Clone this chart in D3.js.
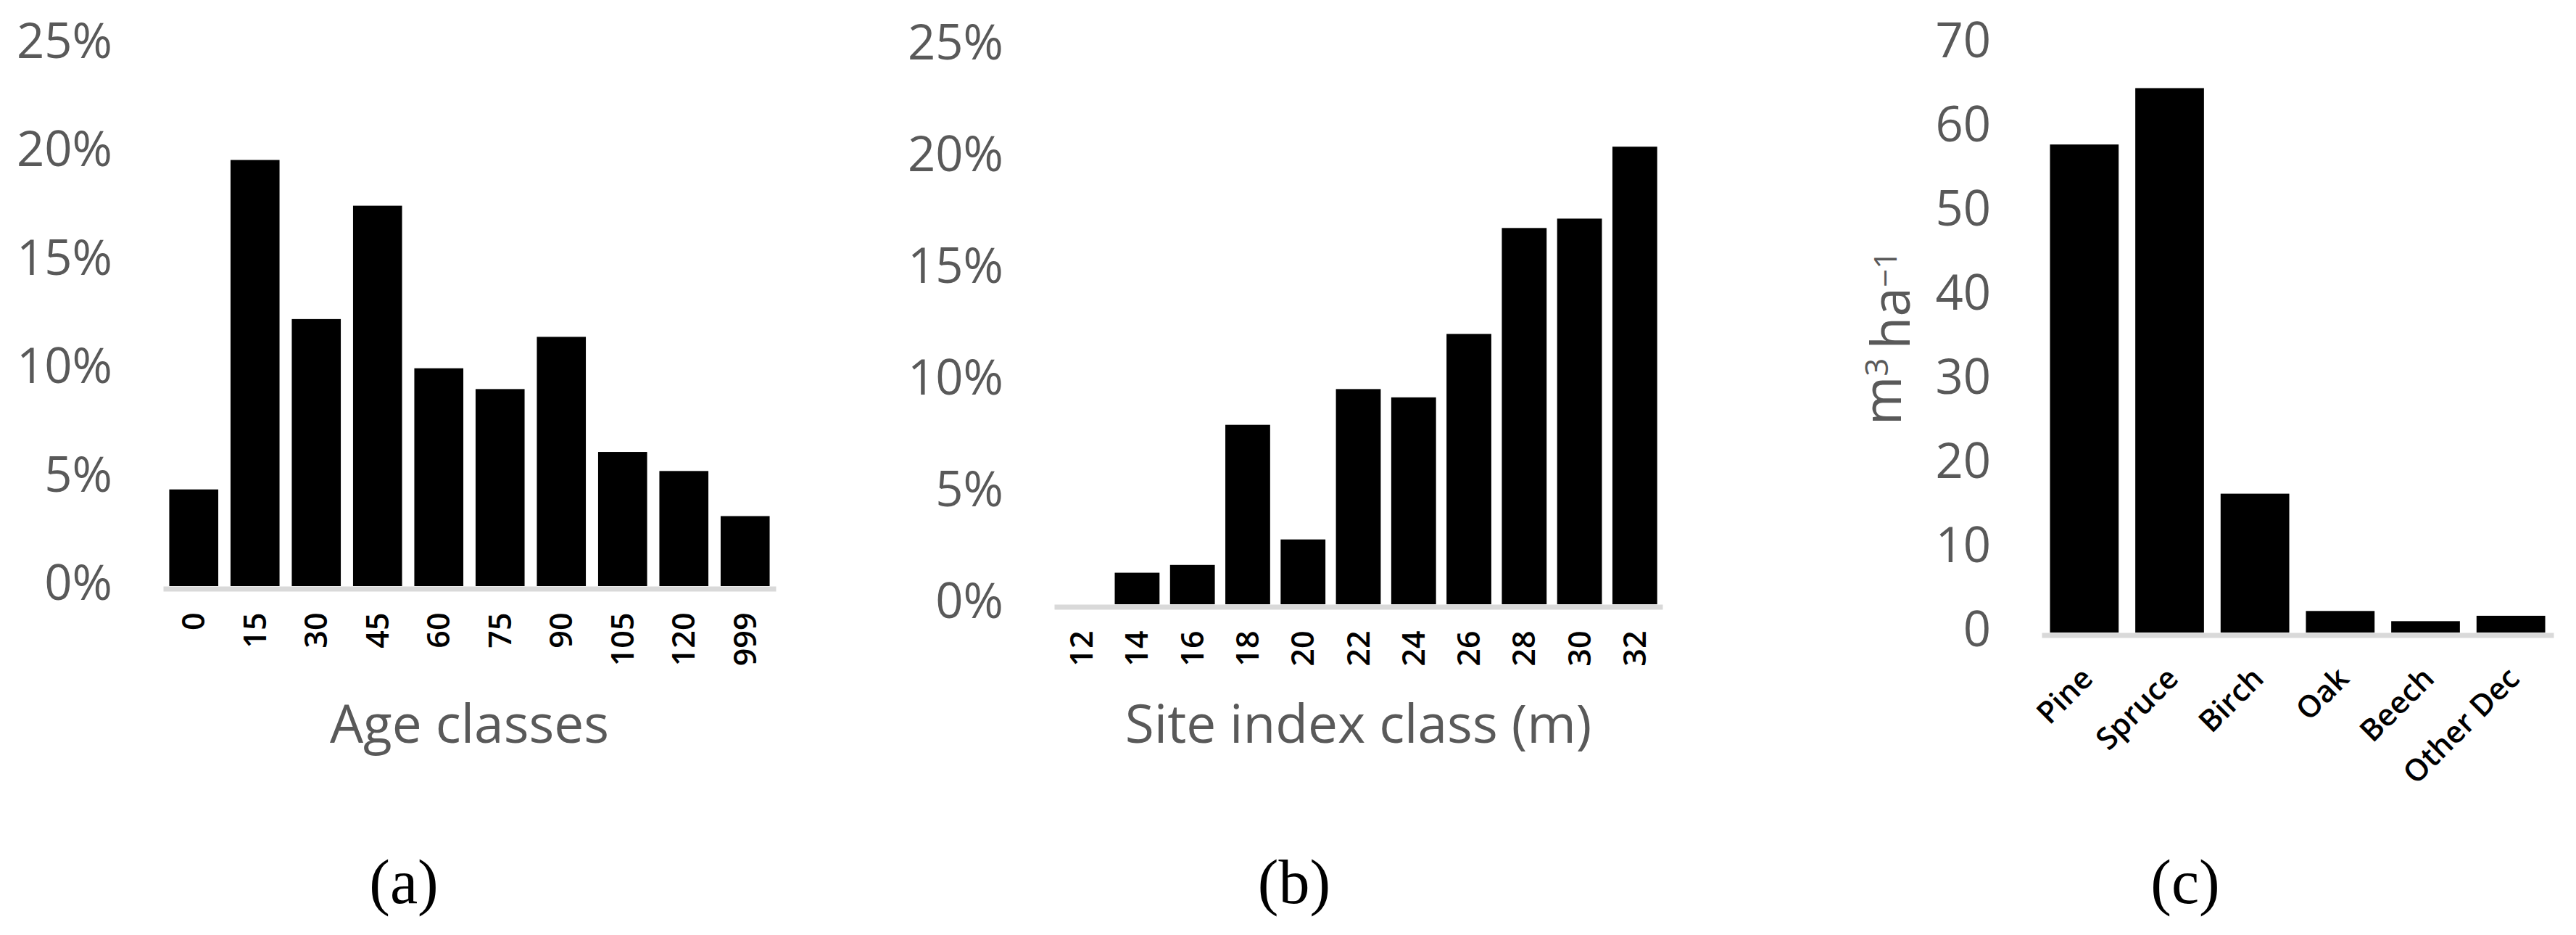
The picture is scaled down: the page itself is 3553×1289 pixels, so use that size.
<!DOCTYPE html>
<html>
<head>
<meta charset="utf-8">
<script src="https://cdn.jsdelivr.net/npm/d3@7"></script>
<style>
  body { margin: 0; background: #fff; }
  svg { display: block; }
</style>
</head>
<body>
<script>
// data
var ageClasses = ["0", "15", "30", "45", "60", "75", "90", "105", "120", "999"];
var ageShares = [0.0446, 0.1966, 0.1232, 0.1755, 0.1005, 0.0909, 0.1150, 0.0619, 0.0531, 0.0323];

var siteClasses = ["12", "14", "16", "18", "20", "22", "24", "26", "28", "30", "32"];
var siteShares = [0, 0.0141, 0.0176, 0.0803, 0.0290, 0.0963, 0.0926, 0.1210, 0.1684, 0.1726, 0.2048];

var species = ["Pine", "Spruce", "Birch", "Oak", "Beech", "Other Dec"];
var volumes = [58.0, 64.7, 16.5, 2.56, 1.35, 1.99];

var pctTicks = [0, 0.05, 0.10, 0.15, 0.20, 0.25];
var volTicks = [0, 10, 20, 30, 40, 50, 60, 70];

var width = 3553,
    height = 1289,
    grey = "#595959",
    font = "'Open Sans', 'Noto Sans', sans-serif";

var svg = d3.select("body").append("svg")
    .attr("width", width)
    .attr("height", height);

svg.append("rect")
    .attr("width", width)
    .attr("height", height)
    .attr("fill", "#fff");

// one bar panel, Excel look
function drawPanel(p) {
  var g = svg.append("g");

  var x = d3.scaleBand()
      .domain(p.cats)
      .range([p.left, p.right])
      .paddingInner(p.pad)
      .paddingOuter(p.pad / 2);

  var y = d3.scaleLinear()
      .domain([0, p.max])
      .range([p.base, p.top]);

  // y tick labels
  var ya = g.append("g")
      .attr("transform", "translate(" + (p.left - 70) + ",0)")
      .call(d3.axisLeft(y).tickValues(p.ticks).tickFormat(p.fmt).tickSize(0).tickPadding(0));
  ya.select(".domain").remove();
  ya.selectAll("text")
      .attr("x", 0)
      .attr("dy", "0.32em")
      .attr("transform", "translate(0,-3)")
      .style("font-family", font)
      .style("font-size", "67px")
      .style("fill", grey);

  // bars
  g.selectAll("rect.bar")
      .data(p.vals)
      .enter()
      .append("rect")
      .attr("class", "bar")
      .attr("x", function(d, i) { return x(p.cats[i]); })
      .attr("width", x.bandwidth())
      .attr("y", function(d) { return y(d); })
      .attr("height", function(d) { return p.base - y(d); })
      .attr("fill", "#000");

  // category axis, grey base line
  var xa = g.append("g")
      .attr("transform", "translate(0," + (p.base + 3.5) + ")")
      .call(d3.axisBottom(x).tickSize(0).tickSizeOuter(0));
  xa.select(".domain")
      .attr("stroke", "#d9d9d9")
      .attr("stroke-width", 7);

  var lab = xa.selectAll("text")
      .style("font-family", font)
      .style("font-weight", 600)
      .style("fill", "#000")
      .attr("text-anchor", "end");

  if (p.angle == -90) {
    lab.style("font-size", "43px")
       .attr("y", 0)
       .attr("dy", "0.35em")
       .attr("transform", "translate(0,33) rotate(-90)");
  } else {
    lab.style("font-size", "42px")
       .attr("y", 0)
       .attr("dy", "0.35em")
       .attr("transform", "translate(4,52) rotate(-45)");
  }

  // axis titles
  if (p.xTitle) {
    g.append("text")
        .attr("x", (p.left + p.right) / 2)
        .attr("y", 1024)
        .attr("text-anchor", "middle")
        .style("font-family", font)
        .style("font-size", "73px")
        .style("fill", grey)
        .text(p.xTitle);
  }

  // panel letter
  g.append("text")
      .attr("x", p.letterX)
      .attr("y", 1245)
      .attr("text-anchor", "middle")
      .style("font-family", "'Liberation Serif', 'Times New Roman', serif")
      .style("font-size", "86px")
      .style("fill", "#000")
      .text(p.letter);

  return {g: g, x: x, y: y};
}

var pctFmt = d3.format(".0%");

drawPanel({
  cats: ageClasses, vals: ageShares,
  left: 225, right: 1070, base: 808, top: 61, max: 0.25,
  pad: 0.2, ticks: pctTicks, fmt: pctFmt, angle: -90,
  xTitle: "Age classes", letter: "(a)", letterX: 557
});

drawPanel({
  cats: siteClasses, vals: siteShares,
  left: 1454, right: 2293, base: 833, top: 63, max: 0.25,
  pad: 0.19, ticks: pctTicks, fmt: pctFmt, angle: -90,
  xTitle: "Site index class (m)", letter: "(b)", letterX: 1785
});

var pc = drawPanel({
  cats: species, vals: volumes,
  left: 2816, right: 3522, base: 872, top: 60, max: 70,
  pad: 0.195, ticks: volTicks, fmt: d3.format("d"), angle: -45,
  xTitle: null, letter: "(c)", letterX: 3014
});

// m3 ha-1 with superscripts
var yt = pc.g.append("text")
    .attr("transform", "translate(2622," + ((872 + 60) / 2) + ") rotate(-90)")
    .attr("text-anchor", "middle")
    .style("font-family", font)
    .style("font-size", "73px")
    .style("fill", grey);
yt.append("tspan").text("m");
yt.append("tspan").attr("dy", "-0.4em").style("font-size", "44px").text("3");
yt.append("tspan").attr("dy", "0.4em").text("\u2009ha");
yt.append("tspan").attr("dy", "-0.4em").style("font-size", "44px").text("\u22121");
</script>
</body>
</html>
